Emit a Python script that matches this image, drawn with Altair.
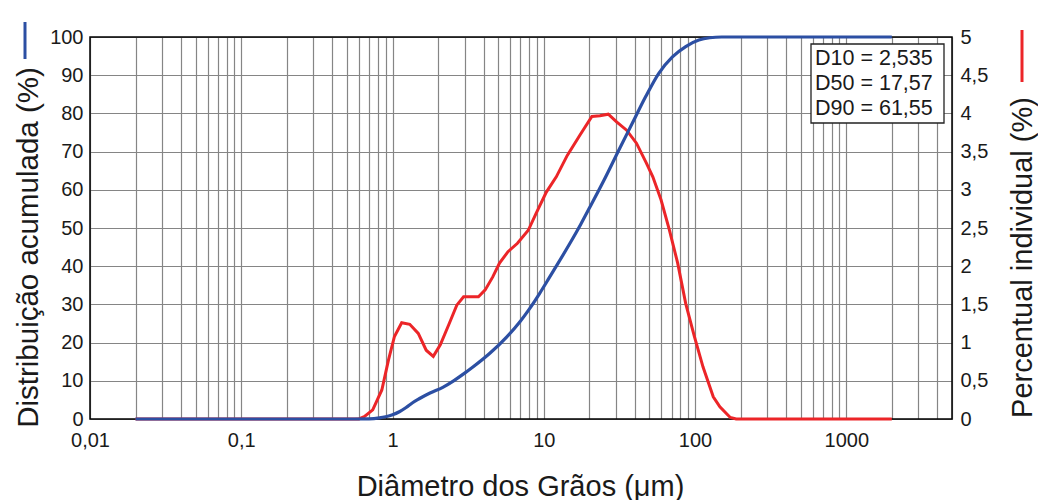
import altair as alt
import pandas as pd

# Cumulative distribution (%) - left axis
cum_d = [0.02, 0.1, 0.5, 0.7, 0.82, 0.9, 1.0, 1.11, 1.23, 1.35, 1.5, 1.77, 2.15, 2.535,
         3.0, 3.4, 4.4, 5.7, 7.0, 8.0, 9.4, 10.5, 12.1, 15.0, 17.57, 20.2, 25.0, 31.8,
         38.7, 47.2, 57.6, 70.9, 86.8, 106.0, 125.0, 150.0, 2000.0]
cum_v = [0, 0, 0, 0.05, 0.3, 0.6, 1.1, 1.9, 3.0, 4.2, 5.3, 6.8, 8.3, 10.0,
         12.0, 13.6, 17.2, 21.5, 25.6, 28.7, 32.9, 36.0, 40.0, 46.2, 51.0, 55.5, 62.5, 70.9,
         77.6, 84.4, 90.5, 94.8, 97.5, 99.2, 99.8, 100, 100]

# Individual percentage (%) - right axis
ind_d = [0.02, 0.6, 0.65, 0.74, 0.85, 0.94, 1.03, 1.15, 1.30, 1.48, 1.67, 1.86, 2.07, 2.35,
         2.66, 2.95, 3.7, 4.1, 4.6, 5.1, 5.8, 6.7, 7.9, 8.9, 10.4, 12.1, 14.3, 17.4, 20.8,
         23.5, 26.7, 30.3, 35.3, 41.0, 47.7, 52.6, 59.6, 67.8, 76.8, 86.8, 99.0, 113.0,
         132.0, 146.0, 171.0, 187.0, 2000.0]
ind_v = [0, 0, 0.03, 0.12, 0.38, 0.77, 1.08, 1.26, 1.24, 1.12, 0.90, 0.82, 0.97, 1.23,
         1.49, 1.60, 1.60, 1.69, 1.86, 2.04, 2.19, 2.30, 2.47, 2.69, 2.97, 3.17, 3.45, 3.72, 3.96,
         3.97, 3.99, 3.89, 3.78, 3.61, 3.35, 3.17, 2.87, 2.47, 2.04, 1.51, 1.08, 0.68,
         0.29, 0.16, 0.02, 0, 0]

box_lines = ["D10 = 2,535", "D50 = 17,57", "D90 = 61,55"]

x_title = "Diâmetro dos Grãos (μm)"
y_left_title = "Distribuição acumulada (%)"
y_right_title = "Percentual individual (%)"

decades = [0.01, 0.1, 1, 10, 100, 1000]
grid_vals = []
for k in range(-2, 4):
    for m in range(1, 10):
        v = round(m * 10 ** k, 6)
        if v <= 5000:
            grid_vals.append(v)

left_ticks = list(range(0, 101, 10))
right_ticks = [i * 0.5 for i in range(11)]

W, H = 862, 382
FONT = "Liberation Sans"
BLUE = "#2c4fa3"
RED = "#ec2528"
GRID = "#858585"

cum_df = pd.DataFrame({"d": cum_d, "v": cum_v})
ind_df = pd.DataFrame({"d": ind_d, "v": ind_v})

x_axis = alt.Axis(
    values=grid_vals,
    labelExpr="indexof([0.01,0.1,1,10,100,1000], datum.value) >= 0 ? replace(toString(datum.value), '.', ',') : ''",
    grid=True, gridColor=GRID, gridWidth=1.2,
    ticks=False, domain=False,
    labelFontSize=20, labelFont=FONT, labelColor="#1a1a1a", labelPadding=11,
    labelFlush=False, labelOverlap=False,
    title=x_title, titleFontSize=29, titleFont=FONT, titleFontWeight="normal",
    titleColor="#1a1a1a", titleBaseline="alphabetic", titleX=430, titleY=76,
    titleAnchor="middle", titleAlign="center",
)
x_enc = alt.X("d:Q", scale=alt.Scale(type="log", domain=[0.01, 5000], nice=False), axis=x_axis)

blue = alt.Chart(cum_df).mark_line(color=BLUE, strokeWidth=3.2, interpolate="monotone").encode(
    x=x_enc,
    y=alt.Y("v:Q", scale=alt.Scale(domain=[0, 100], nice=False),
            axis=alt.Axis(values=left_ticks, grid=True, gridColor=GRID, gridWidth=1.2,
                          ticks=False, domain=False, labelFontSize=20, labelFont=FONT,
                          labelColor="#1a1a1a", labelPadding=7,
                          title=y_left_title, titleFontSize=29.5, titleFont=FONT,
                          titleFontWeight="normal", titleColor="#1a1a1a",
                          titleAngle=270, titleBaseline="middle", titleAlign="center",
                          titleX=-62, titleY=210)),
)

red = alt.Chart(ind_df).mark_line(color=RED, strokeWidth=3).encode(
    x=x_enc,
    y=alt.Y("v:Q", scale=alt.Scale(domain=[0, 5], nice=False),
            axis=alt.Axis(orient="right", values=right_ticks, grid=False,
                          labelExpr="replace(toString(datum.value), '.', ',')",
                          ticks=False, domain=False, labelFontSize=20, labelFont=FONT,
                          labelColor="#1a1a1a", labelPadding=8,
                          title=y_right_title, titleFontSize=29, titleFont=FONT,
                          titleFontWeight="normal", titleColor="#1a1a1a",
                          titleAngle=270, titleBaseline="middle", titleAlign="center",
                          titleX=70, titleY=220)),
)

frame = alt.Chart(pd.DataFrame({"a": [0]})).mark_rect(
    fill=None, stroke="black", strokeWidth=1.5
).encode(x=alt.value(0), x2=alt.value(W), y=alt.value(0), y2=alt.value(H))

box = alt.Chart(pd.DataFrame({"a": [0]})).mark_rect(
    fill="white", stroke="#222222", strokeWidth=1.3
).encode(x=alt.value(721), x2=alt.value(854), y=alt.value(7), y2=alt.value(86))

box_text = alt.Chart(pd.DataFrame({"t": ["\n".join(box_lines)]})).mark_text(
    align="left", baseline="top", font=FONT, fontSize=21.5, lineHeight=25,
    color="#1a1a1a", lineBreak="\n"
).encode(x=alt.value(725), y=alt.value(11), text="t:N")

blue_leg = alt.Chart(pd.DataFrame({"a": [0]})).mark_rule(color=BLUE, strokeWidth=3).encode(
    x=alt.value(-65), y=alt.value(-15), y2=alt.value(22))
red_leg = alt.Chart(pd.DataFrame({"a": [0]})).mark_rule(color=RED, strokeWidth=3).encode(
    x=alt.value(932), y=alt.value(-7), y2=alt.value(45))

chart = alt.layer(frame, red, blue, box, box_text, blue_leg, red_leg).resolve_scale(
    y="independent"
).properties(
    width=W, height=H,
    padding={"left": 90, "top": 37, "right": 86, "bottom": 81},
    autosize=alt.AutoSizeParams(type="none"),
    background="white",
).configure_view(stroke=None)

chart.save("out.html", embed_options={"renderer": "svg", "actions": False})
